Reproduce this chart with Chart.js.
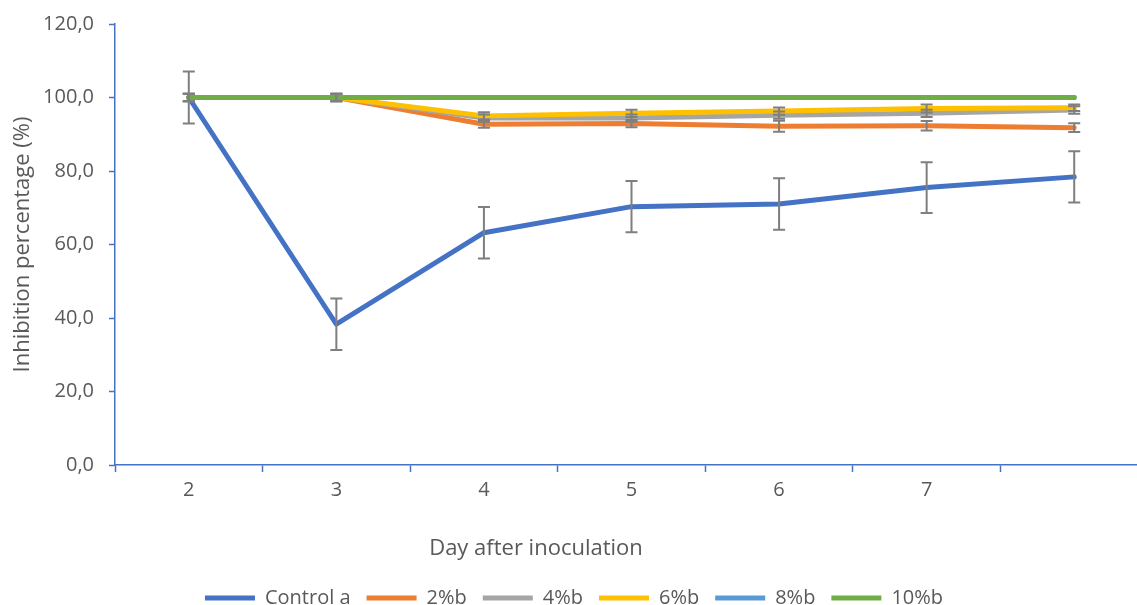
<!DOCTYPE html>
<html>
<head>
<meta charset="utf-8">
<script src="https://cdn.jsdelivr.net/npm/chart.js@4.4.1/dist/chart.umd.min.js"></script>
<style>
  html, body { margin: 0; padding: 0; background: #fff; overflow: hidden; }
  #wrap { width: 1156px; height: 618px; position: relative; }
</style>
</head>
<body>
<div id="wrap"><canvas id="chart"></canvas></div>
<script>
// days after inoculation (last point has no label in the original)
const days = ["2", "3", "4", "5", "6", "7", ""];

const control = [100, 38.3, 63.2, 70.3, 71.0, 75.5, 78.4];
const pct2 = [100, 100, 92.7, 92.9, 92.2, 92.3, 91.8];
const pct4 = [100, 100, 94.4, 94.4, 95.2, 95.7, 96.6];
const pct6 = [100, 100, 95.0, 95.7, 96.3, 97.0, 97.2];
const pct8 = [100, 100, 100, 100, 100, 100, 100];
const pct10 = [100, 100, 100, 100, 100, 100, 100];

// error bars (+/-)
const errControl = [7.1, 7.0, 7.0, 7.0, 7.0, 6.9, 7.0];
const err2 = [1.0, 1.0, 0.9, 1.0, 1.5, 1.3, 1.2];
const err4 = [1.0, 1.0, 1.0, 1.0, 1.0, 1.0, 1.0];
const err6 = [1.0, 1.0, 1.0, 1.0, 1.0, 1.1, 0.9];
const err8 = [0, 0, 0, 0, 0, 0, 0];
const err10 = [0, 0, 0, 0, 0, 0, 0];

const yTicks = { min: 0, max: 120, step: 20 };

const FONT = "'Open Sans', sans-serif";
const GREY = "#595959";
const AXIS = "#4472C4";

const errorBars = {
    id: "errorBars",
    afterDatasetsDraw(chart) {
        const { ctx, scales: { x, y } } = chart;
        ctx.save();
        ctx.strokeStyle = "#7f7f7f";
        ctx.lineWidth = 2;
        chart.data.datasets.forEach((ds, i) => {
            if (!chart.isDatasetVisible(i) || !ds.errors) return;
            ds.data.forEach((v, j) => {
                const e = ds.errors[j];
                if (!e) return;
                const px = x.getPixelForValue(j);
                const top = y.getPixelForValue(v + e);
                const bot = y.getPixelForValue(v - e);
                ctx.beginPath();
                ctx.moveTo(px, top); ctx.lineTo(px, bot);
                ctx.moveTo(px - 6, top); ctx.lineTo(px + 6, top);
                ctx.moveTo(px - 6, bot); ctx.lineTo(px + 6, bot);
                ctx.stroke();
            });
        });
        ctx.restore();
    }
};

// x axis title sits left of the plot centre in the original
const xTitle = {
    id: "xTitle",
    afterDraw(chart) {
        const ctx = chart.ctx;
        ctx.save();
        ctx.font = "22px " + FONT;
        ctx.fillStyle = GREY;
        ctx.textAlign = "center";
        ctx.textBaseline = "middle";
        ctx.fillText("Day after inoculation", 536, 549);
        ctx.restore();
    }
};

// order: control drawn at the bottom, 10% on top
function line(label, data, errors, color, order) {
    return {
        label, data, errors, order,
        borderColor: color,
        backgroundColor: color,
        borderWidth: 5,
        borderCapStyle: "round",
        borderJoinStyle: "round",
        pointRadius: 0,
        pointHoverRadius: 0,
        tension: 0,
        fill: false,
    };
}

new Chart(document.getElementById("chart"), {
    type: "line",
    data: {
        labels: days,
        datasets: [
            line("Control a", control, errControl, "#4472C4", 6),
            line("2%b", pct2, err2, "#ED7D31", 5),
            line("4%b", pct4, err4, "#A5A5A5", 4),
            line("6%b", pct6, err6, "#FFC000", 3),
            line("8%b", pct8, err8, "#5B9BD5", 2),
            line("10%b", pct10, err10, "#70AD47", 1),
        ],
    },
    options: {
        responsive: true,
        maintainAspectRatio: false,
        animation: false,
        layout: { padding: { top: 24, right: 8, left: 0, bottom: 0 } },
        plugins: {
            legend: {
                position: "bottom",
                labels: {
                    usePointStyle: true,
                    pointStyle: "line",
                    pointStyleWidth: 50,
                    boxHeight: 5,
                    padding: 16,
                    color: GREY,
                    font: { family: FONT, size: 20 },
                    sort: (a, b) => a.datasetIndex - b.datasetIndex,
                },
            },
            tooltip: { enabled: false },
        },
        scales: {
            x: {
                offset: true,
                grid: { offset: true, drawOnChartArea: false, tickLength: 7, color: AXIS, tickWidth: 1.5 },
                border: { color: AXIS, width: 1.5 },
                ticks: { color: GREY, font: { family: FONT, size: 20 }, padding: 6, maxRotation: 0 },
                afterFit(s) {
                    const lh = s.chart.legend ? s.chart.legend.height : 46;
                    s.height = s.chart.height - lh - 465;
                },
            },
            y: {
                min: yTicks.min,
                max: yTicks.max,
                grid: { drawOnChartArea: false, tickLength: 6, color: AXIS, tickWidth: 1.5 },
                border: { color: AXIS, width: 1.5 },
                ticks: {
                    stepSize: yTicks.step,
                    color: GREY,
                    padding: 15,
                    font: { family: FONT, size: 20 },
                    callback: (v) => v.toFixed(1).replace(".", ","),
                },
                title: {
                    display: true,
                    text: "Inhibition percentage (%)",
                    color: GREY,
                    font: { family: FONT, size: 22 },
                    padding: { top: 10, bottom: 0 },
                },
                afterFit(s) {
                    s.width = 115;
                    s.paddingTop = 0;
                    s.paddingBottom = 0;
                },
            },
        },
    },
    plugins: [errorBars, xTitle],
});
</script>
</body>
</html>
